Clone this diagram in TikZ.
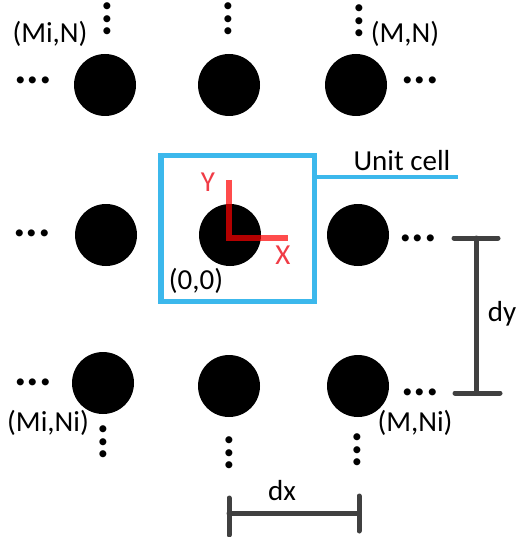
\documentclass[tikz,border=0pt]{standalone}
\usepackage{fontspec}
\setmainfont{Carlito}
\usetikzlibrary{positioning}
\definecolor{CellBlue}{RGB}{60,184,236}
\definecolor{AxisRed}{RGB}{255,0,0}
\definecolor{AxisText}{RGB}{240,60,70}
\definecolor{BarGray}{RGB}{64,64,64}
\tikzset{
  atom/.style={circle,fill=black,minimum size=62pt,inner sep=0pt},
  coordtext/.style={font=\fontsize{29}{33}\selectfont,inner sep=0pt},
  hdots/.style={font=\fontsize{47}{47}\selectfont\bfseries,inner sep=0pt,anchor=base},
  vdots/.style={hdots,rotate=90},
  cellbox/.style={draw=CellBlue,line width=5.5pt,minimum width=153.5pt,
    minimum height=145.5pt,inner sep=0pt},
  leader/.style={CellBlue,line width=4.8pt},
  axis/.style={AxisRed,opacity=0.7,line width=6pt},
  axistext/.style={coordtext,text=AxisText},
  bar/.style={BarGray,line width=5pt,line cap=round}
}

\begin{document}
\begin{tikzpicture}[x=1pt,y=-1pt]
  \useasboundingbox (0,0) rectangle (515,537);
  % lattice points
  \node[atom] (c11) at (105,85) {};
  \node[atom] (c12) at (229,85) {};
  \node[atom] (c13) at (356,85) {};
  \node[atom] (c21) at (106,235) {};
  \node[atom] (c22) at (230,235) {};
  \node[atom] (c23) at (358,235) {};
  \node[atom] (c31) at (103,383) {};
  \node[atom] (c32) at (229,386) {};
  \node[atom] (c33) at (358,386) {};
  % continuation dots
  \foreach \x/\y [count=\i] in {33/84, 420/84, 32/236, 418/241, 33/385, 420/395}
    \node[hdots] (h\i) at (\x,\y) {...};
  \foreach \x/\y [count=\i] in {110/19, 231/19, 362/21, 106/442, 232/453, 360/450}
    \node[vdots] (v\i) at (\x,\y) {...};
  % corner labels
  \node[coordtext] (mi-n) at (50,34) {(Mi,N)};
  \node[coordtext] (m-n) at (405,34) {(M,N)};
  \node[coordtext] (mi-ni) at (48,423) {(Mi,Ni)};
  \node[coordtext] (m-ni) at (415,423) {(M,Ni)};
  % unit cell
  \node[cellbox] (cell) at (237.5,228.5) {};
  \coordinate (lead) at (458,177);
  \draw[leader] (cell.east |- lead) -- (lead);
  \node[coordtext] (celltext) at (402,161) {Unit cell};
  \node[coordtext] (origin) at (196,281) {(0,0)};
  % local axes
  \coordinate (o) at (229,238);
  \coordinate (ytip) at (229,180);
  \coordinate (xtip) at (288,238);
  \draw[axis] (ytip) -- (o) -- (xtip);
  \node[axistext] (ylab) at (208,182) {Y};
  \node[axistext] (xlab) at (283,255) {X};
  % spacing dy
  \coordinate (dyt) at (476,238);
  \coordinate (dyb) at (476,393);
  \draw[bar] (dyt) -- (dyb);
  \draw[bar] ([xshift=-22pt]dyt) -- ([xshift=22pt]dyt);
  \draw[bar] ([xshift=-21pt]dyb) -- ([xshift=24pt]dyb);
  \node[coordtext] (dylab) at (502,314) {dy};
  % spacing dx
  \coordinate (dxl) at (229,513);
  \coordinate (dxr) at (359,513);
  \draw[bar] (dxl) -- (dxr);
  \draw[bar] ([yshift=-22pt]dxl) -- ([yshift=15pt]dxl);
  \draw[bar] ([yshift=-18pt]dxr) -- ([yshift=17pt]dxr);
  \node[coordtext] (dxlab) at (282,491) {dx};
\end{tikzpicture}
\end{document}
